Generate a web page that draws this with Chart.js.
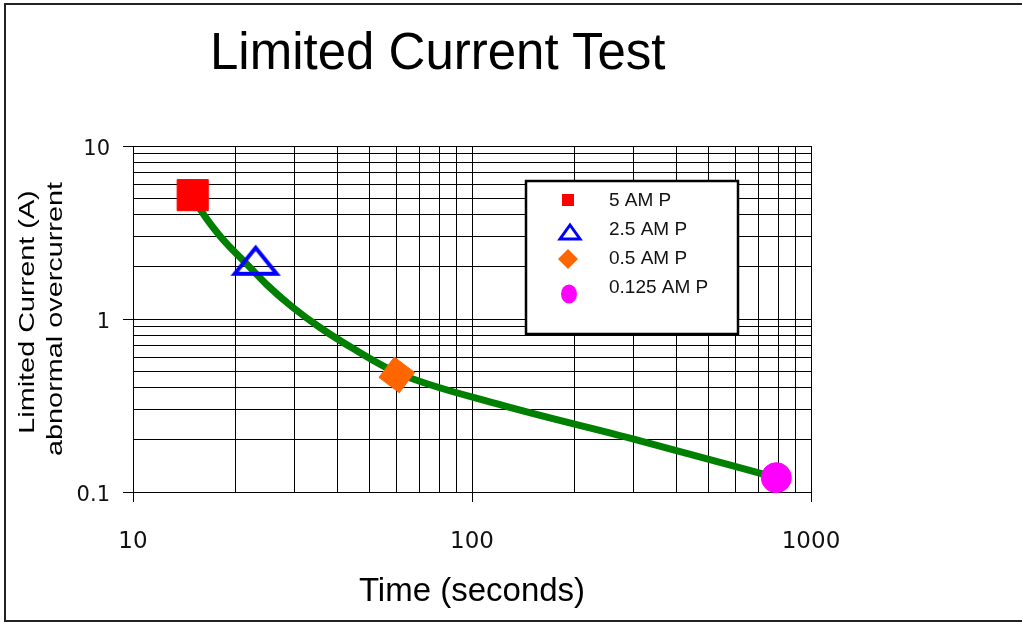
<!DOCTYPE html>
<html>
<head>
<meta charset="utf-8">
<title>Limited Current Test</title>
<script src="https://cdn.jsdelivr.net/npm/chart.js@4.4.1/dist/chart.umd.min.js"></script>
<style>
    html, body { margin: 0; padding: 0; background: #fff; }
    #wrap { position: relative; width: 1022px; height: 622px; overflow: hidden; }
    #frame { position: absolute; left: 4px; top: 3px; width: 1040px; height: 615px; border: 2px solid #222; }
    #chart { position: absolute; left: 0; top: 0; }
    .title { position: absolute; left: 210px; top: 26px; font: 51px/51px "Liberation Sans", Arial, sans-serif; white-space: nowrap; color: #000; }
    .ytitle { position: absolute; font: 22px/22px "Liberation Sans", Arial, sans-serif; white-space: nowrap; color: #000;
              transform: translate(-50%, -50%) rotate(-90deg) scaleX(1.31); }
</style>
</head>
<body>
<div id="wrap">
    <div id="frame"></div>
    <canvas id="chart" width="1022" height="622"></canvas>
    <div class="title">Limited Current Test</div>
    <div class="ytitle" style="left:27px; top:312px;">Limited Current (A)</div>
    <div class="ytitle" style="left:55px; top:319px;">abnormal overcurrent</div>
</div>
<script>
// ── Data ─────────────────────────────────────────────────────────────────────

const timeTicks = [10, 20, 30, 40, 50, 60, 70, 80, 90, 100, 200, 300, 400, 500, 600, 700, 800, 900, 1000];
const timeLabels = [10, 100, 1000];
const currentTicks = [0.1, 0.2, 0.3, 0.4, 0.5, 0.6, 0.7, 0.8, 0.9, 1, 2, 3, 4, 5, 6, 7, 8, 9, 10];
const currentLabels = [0.1, 1, 10];

// green curve (seconds, amps)
const curveTime = [15, 15.8, 18.1, 21.7, 24.8, 29.6, 35.6, 44.6, 60, 121, 298, 790];
const curveCurrent = [5.2, 4.3, 3.0, 2.07, 1.58, 1.167, 0.893, 0.675, 0.49, 0.32, 0.203, 0.121];

// fuse markers
const fuseNames = ['5 AM P', '2.5 AM P', '0.5 AM P', '0.125 AM P'];
const fuseTime = [15, 23, 60, 790];
const fuseCurrent = [5.2, 2.2, 0.475, 0.121];
const fuseColors = ['#ff0000', '#0000ff', '#ff6600', '#ff00ff'];

// ── Helpers ──────────────────────────────────────────────────────────────────

function triangleImage(w, h, lw, color) {
    const c = document.createElement('canvas');
    c.width = w;
    c.height = h;
    const g = c.getContext('2d');
    g.strokeStyle = color;
    g.lineWidth = lw;
    g.lineJoin = 'miter';
    g.beginPath();
    g.moveTo(w / 2, lw + 1);
    g.lineTo(w - lw - 1, h - lw / 2 - 1);
    g.lineTo(lw + 1, h - lw / 2 - 1);
    g.closePath();
    g.stroke();
    return c;
}

const isIn = (list, v) => list.some(t => Math.abs(t - v) < 1e-9);

const fuseStyles = [
    { pointStyle: 'rect', radius: 22, rotation: 0 },
    { pointStyle: triangleImage(52, 34, 4, fuseColors[1]), radius: 20, rotation: 0 },
    { pointStyle: 'rectRot', radius: 18, rotation: -8 },
    { pointStyle: 'circle', radius: 15, rotation: 0 },
];

// ── Legend box drawn inside the plot ─────────────────────────────────────────

const legendBox = {
    id: 'legendBox',
    afterDatasetsDraw(chart) {
        const { ctx, chartArea } = chart;
        const x = chartArea.left + 393;
        const y = chartArea.top + 35;
        ctx.save();
        ctx.fillStyle = '#fff';
        ctx.fillRect(x, y, 212, 153);
        ctx.lineWidth = 2.5;
        ctx.strokeStyle = '#000';
        ctx.strokeRect(x, y, 212, 153);

        const mx = x + 42;
        const baselines = [25, 54, 83, 112];
        const marks = [19, 51, 78, 113];
        ctx.font = '19px "Liberation Sans", Arial, sans-serif';
        ctx.textBaseline = 'alphabetic';
        fuseNames.forEach((name, i) => {
            const my = y + marks[i];
            ctx.fillStyle = fuseColors[i];
            ctx.strokeStyle = fuseColors[i];
            ctx.beginPath();
            if (i === 0) {
                ctx.rect(mx - 6, my - 6, 12, 12);
                ctx.fill();
            } else if (i === 1) {
                ctx.lineWidth = 3;
                ctx.moveTo(mx + 2, my - 7);
                ctx.lineTo(mx + 12, my + 7);
                ctx.lineTo(mx - 8, my + 7);
                ctx.closePath();
                ctx.stroke();
            } else if (i === 2) {
                ctx.moveTo(mx, my - 10);
                ctx.lineTo(mx + 10, my);
                ctx.lineTo(mx, my + 10);
                ctx.lineTo(mx - 10, my);
                ctx.closePath();
                ctx.fill();
            } else {
                ctx.ellipse(mx + 1, my, 8, 9.5, 0, 0, Math.PI * 2);
                ctx.fill();
            }
            ctx.fillStyle = '#111';
            ctx.fillText(name, x + 83, y + baselines[i]);
        });
        ctx.restore();
    },
};

// ── Chart ────────────────────────────────────────────────────────────────────

const datasets = [{
    label: 'curve',
    data: curveTime.map((t, i) => ({ x: t, y: curveCurrent[i] })),
    borderColor: '#008000',
    borderWidth: 7,
    pointRadius: 0,
    cubicInterpolationMode: 'monotone',
    order: 10,
    clip: false,
}];

fuseNames.forEach((name, i) => {
    datasets.push({
        label: name,
        data: [{ x: fuseTime[i], y: fuseCurrent[i] }],
        showLine: false,
        pointStyle: fuseStyles[i].pointStyle,
        pointRadius: fuseStyles[i].radius,
        pointRotation: fuseStyles[i].rotation,
        backgroundColor: fuseColors[i],
        borderColor: fuseColors[i],
        borderWidth: 1,
        order: 1,
        clip: false,
    });
});

const tickFont = { family: '"DejaVu Sans", sans-serif' };

new Chart(document.getElementById('chart'), {
    type: 'line',
    data: { datasets },
    options: {
        responsive: false,
        animation: false,
        events: [],
        layout: { padding: { top: 146, right: 211, left: 0, bottom: 0 } },
        plugins: {
            legend: { display: false },
            tooltip: { enabled: false },
            title: { display: false },
        },
        scales: {
            x: {
                type: 'logarithmic',
                min: 10,
                max: 1000,
                afterBuildTicks: s => { s.ticks = timeTicks.map(v => ({ value: v })); },
                afterFit: s => { s.height = 130; },
                grid: {
                    color: '#000',
                    lineWidth: 1,
                    tickLength: 10,
                    tickColor: ctx => isIn(timeLabels, ctx.tick.value) ? '#000' : 'rgba(0,0,0,0)',
                },
                border: { display: true, color: '#000', width: 1 },
                ticks: {
                    autoSkip: false,
                    maxRotation: 0,
                    padding: 26,
                    color: '#111',
                    font: { ...tickFont, size: 23 },
                    callback: v => isIn(timeLabels, v) ? String(v) : '',
                },
                title: {
                    display: true,
                    text: 'Time (seconds)',
                    color: '#000',
                    font: { family: '"Liberation Sans", Arial, sans-serif', size: 33 },
                    padding: { top: 0, bottom: 10 },
                },
            },
            y: {
                type: 'logarithmic',
                min: 0.1,
                max: 10,
                afterBuildTicks: s => { s.ticks = currentTicks.map(v => ({ value: v })); },
                afterFit: s => { s.width = 133; },
                grid: {
                    color: '#000',
                    lineWidth: 1,
                    tickLength: 10,
                    tickColor: ctx => isIn(currentLabels, ctx.tick.value) ? '#000' : 'rgba(0,0,0,0)',
                },
                border: { display: true, color: '#000', width: 1 },
                ticks: {
                    autoSkip: false,
                    padding: 13,
                    color: '#111',
                    // small line height + blank first line drops the label ~4px below its tick
                    font: { ...tickFont, size: 21, lineHeight: 8 / 21 },
                    callback: v => isIn(currentLabels, v) ? ['', String(v)] : '',
                },
            },
        },
    },
    plugins: [legendBox],
});
</script>
</body>
</html>
